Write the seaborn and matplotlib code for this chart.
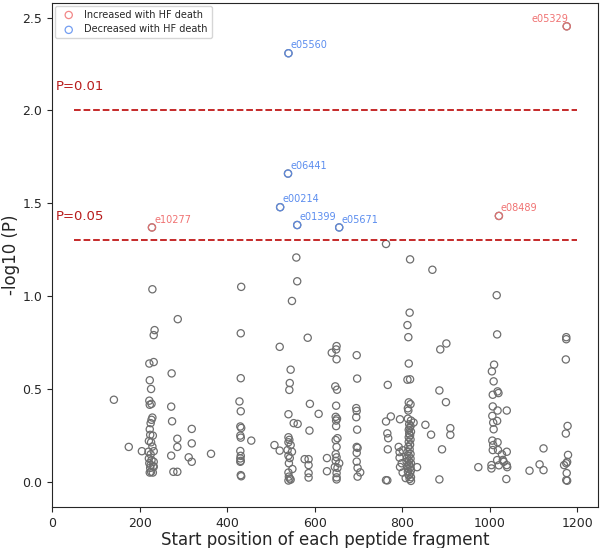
import numpy as np
import pandas as pd
import matplotlib
matplotlib.use("Agg")
import matplotlib.pyplot as plt
import seaborn as sns

# start position and -log10(P) for the non-significant fragments
grey_x = [141, 175, 205,
          229, 234, 232, 232, 222, 223, 226, 222, 227, 223, 229, 227, 225, 223, 224, 230,
          221, 226, 229, 232, 220, 225, 221, 227, 232, 222, 225, 231, 232, 224, 226, 230, 223,
          287, 273, 272, 274, 286, 286, 272, 277, 286,
          319, 319, 312, 319, 363,
          432, 431, 431, 428, 431, 430, 432, 430, 431, 430, 431, 430, 431, 430, 431, 432, 455,
          508, 520, 520, 548, 558, 560, 545, 543, 542, 540, 552, 561, 540, 542, 540, 545, 538,
          548, 540, 543, 541, 549, 540, 541, 543, 545, 540,
          584, 589, 588, 577, 586, 586, 586, 586, 609, 628, 628,
          650, 649, 639, 650, 647, 651, 649, 648, 651, 649, 649, 652, 648, 650, 648, 650, 648,
          656, 646, 652, 650, 650, 650,
          696, 697, 695, 696, 695, 697, 696, 698, 696, 696, 698, 704, 698,
          763, 767, 763, 774, 766, 768, 767, 763, 766,
          795, 818, 817, 812, 814, 815, 812, 818, 815, 819, 813, 814, 813, 820, 826, 816, 819,
          817, 815, 820, 816, 818, 815, 819, 815, 818, 814, 792, 801, 794, 817, 812, 819, 815,
          811, 794, 819, 815, 810, 820, 816, 799, 795, 812, 819, 814, 820, 813, 801, 818, 815,
          820, 817, 820, 834, 808,
          853, 866, 869, 887, 901, 885, 900, 910, 910, 891, 885, 974,
          1016, 1017, 1010, 1005, 1009, 1018, 1020, 1007, 1007, 1018, 1039, 1006, 1017, 1008,
          1009, 1006, 1008, 1018, 1007, 1019, 1039, 1028, 1017, 1030, 1032, 1039, 1040, 1004,
          1004, 1021, 1038,
          1091, 1123, 1114, 1123,
          1175, 1175, 1174, 1178, 1174, 1179, 1170, 1175, 1177, 1176, 1175, 1177]
grey_y = [0.442, 0.188, 0.165,
          1.037, 0.817, 0.79, 0.645, 0.637, 0.547, 0.50, 0.437, 0.42, 0.415, 0.346, 0.334, 0.316,
          0.283, 0.253, 0.249, 0.22, 0.213, 0.19, 0.165, 0.162, 0.148, 0.126, 0.117, 0.108, 0.1,
          0.09, 0.085, 0.081, 0.075, 0.054, 0.05, 0.05,
          0.876, 0.584, 0.405, 0.326, 0.232, 0.188, 0.141, 0.054, 0.054,
          0.285, 0.207, 0.132, 0.108, 0.151,
          1.05, 0.80, 0.558, 0.433, 0.38, 0.298, 0.29, 0.249, 0.238, 0.166, 0.14, 0.126, 0.113,
          0.108, 0.036, 0.03, 0.222,
          0.198, 0.168, 0.727, 0.974, 1.208, 1.08, 0.604, 0.532, 0.495, 0.364, 0.316, 0.312,
          0.24, 0.226, 0.213, 0.198, 0.171, 0.162, 0.141, 0.128, 0.1, 0.069, 0.05, 0.028, 0.018,
          0.012, 0.007,
          0.776, 0.42, 0.276, 0.122, 0.122, 0.09, 0.047, 0.023, 0.366, 0.128, 0.057,
          0.731, 0.713, 0.695, 0.66, 0.514, 0.496, 0.41, 0.35, 0.34, 0.33, 0.30, 0.235, 0.225,
          0.188, 0.149, 0.132, 0.113, 0.1, 0.08, 0.075, 0.047, 0.024, 0.013,
          0.682, 0.556, 0.397, 0.382, 0.348, 0.281, 0.188, 0.183, 0.156, 0.109, 0.075, 0.051, 0.028,
          1.281, 0.522, 0.325, 0.352, 0.261, 0.235, 0.175, 0.009, 0.008,
          0.337, 1.198, 0.911, 0.844, 0.779, 0.637, 0.55, 0.552, 0.428, 0.418, 0.396, 0.384, 0.34,
          0.33, 0.319, 0.31, 0.30, 0.29, 0.28, 0.27, 0.26, 0.25, 0.24, 0.228, 0.215, 0.2, 0.188,
          0.188, 0.17, 0.16, 0.175, 0.16, 0.15, 0.14, 0.13, 0.13, 0.125, 0.115, 0.11, 0.1, 0.093,
          0.1, 0.08, 0.085, 0.078, 0.07, 0.062, 0.055, 0.05, 0.045, 0.035, 0.025, 0.015, 0.005,
          0.079, 0.02,
          0.307, 0.254, 1.142, 0.713, 0.745, 0.492, 0.429, 0.289, 0.253, 0.175, 0.013, 0.079,
          1.005, 0.794, 0.631, 0.595, 0.541, 0.487, 0.478, 0.469, 0.406, 0.384, 0.384, 0.355,
          0.328, 0.319, 0.283, 0.222, 0.198, 0.213, 0.171, 0.171, 0.162, 0.148, 0.117, 0.118,
          0.108, 0.09, 0.079, 0.09, 0.072, 0.089, 0.015,
          0.06, 0.18, 0.094, 0.063,
          0.779, 0.768, 0.659, 0.301, 0.26, 0.145, 0.09, 0.1, 0.107, 0.047, 0.009, 0.006]

# significant fragments
sig_ids = ["e05329", "e08489", "e10277", "e05560", "e06441", "e00214", "e01399", "e05671"]
sig_x = [1176, 1021, 228, 540, 539, 521, 560, 656]
sig_y = [2.453, 1.432, 1.37, 2.308, 1.66, 1.479, 1.383, 1.37]
sig_dir = ["Increased with HF death"] * 3 + ["Decreased with HF death"] * 5

colors = {"Increased with HF death": "#f07272", "Decreased with HF death": "#5b8def"}

grey = pd.DataFrame({"pos": grey_x + sig_x, "logp": grey_y + sig_y})
sig = pd.DataFrame({"id": sig_ids, "pos": sig_x, "logp": sig_y, "dir": sig_dir})

sns.set_style("ticks")
fig, ax = plt.subplots(figsize=(6, 5.48), dpi=100)
fig.subplots_adjust(left=0.087, right=0.997, top=0.995, bottom=0.075)

sns.scatterplot(data=grey, x="pos", y="logp", s=27, facecolor="none",
                edgecolor="#6e6e6e", linewidth=0.9, ax=ax)

for d in ["Increased with HF death", "Decreased with HF death"]:
    sub = sig[sig["dir"] == d]
    sns.scatterplot(data=sub, x="pos", y="logp", s=27, facecolor="none",
                    edgecolor=colors[d], linewidth=0.9, alpha=0.85, label=d, ax=ax)
    for _, r in sub.iterrows():
        # the label at the right edge sits to the left of its point
        right = r["pos"] > 1150
        ax.annotate(r["id"], (r["pos"], r["logp"]),
                    xytext=(1, 2) if right else (1.5, 2),
                    textcoords="offset points", fontsize=7, color=colors[d],
                    ha="right" if right else "left", va="bottom")

ax.hlines([2.0, -np.log10(0.05)], 50, 1200, colors="#c01818", linestyles="--", linewidth=1.3)
ax.text(7, 2.13, "P=0.01", color="#b81c1c", fontsize=9.5, va="center")
ax.text(7, 1.428, "P=0.05", color="#b81c1c", fontsize=9.5, va="center")

ax.set_xlim(0, 1248)
ax.set_ylim(-0.135, 2.58)
ax.set_xticks([0, 200, 400, 600, 800, 1000, 1200])
ax.set_yticks([0.0, 0.5, 1.0, 1.5, 2.0, 2.5])
ax.tick_params(labelsize=9)
ax.set_xlabel("Start position of each peptide fragment", fontsize=12, labelpad=1)
ax.set_ylabel("-log10 (P)", fontsize=12, labelpad=2)

ax.legend(loc="upper left", fontsize=7, frameon=True, borderaxespad=0.3,
          handletextpad=0.6, markerscale=1.0)

fig.savefig("out.png", dpi=100)
